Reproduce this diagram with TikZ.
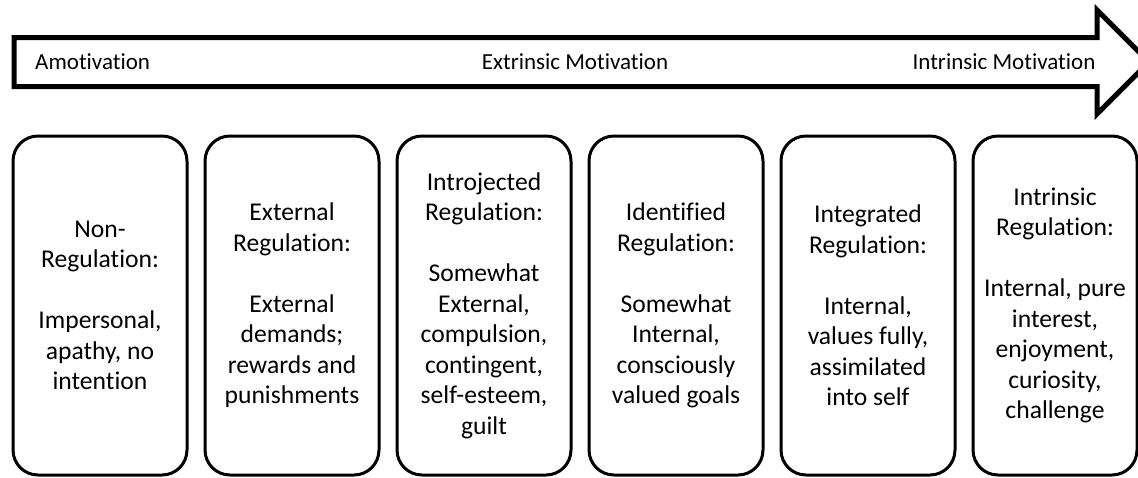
\documentclass[tikz,border=0pt]{standalone}
\usepackage{fontspec}
\setmainfont{Carlito}[Ligatures=NoCommon]
\usepackage{tikz}
\usetikzlibrary{positioning}

\begin{document}
\begin{tikzpicture}[x=1pt, y=-1pt, align=center, node distance=18pt,
  stage/.style={draw, line width=3pt, rounded corners=25pt, inner sep=0pt,
    outer sep=0pt, minimum width=174pt, minimum height=339pt,
    font=\fontsize{25.6}{30.5}\selectfont},
  motlabel/.style={inner sep=0pt, font=\fontsize{23}{27}\selectfont}]
  \useasboundingbox (0,0) rectangle (1138,477);
  \clip (0,0) rectangle (1138,477);
  % the continuum arrow
  \draw[line width=5pt, line join=miter]
    (14,37.5) -- (1097,37.5) -- (1097,10) -- (1149,62)
    -- (1097,114) -- (1097,86.5) -- (14,86.5) -- cycle;
  \node (amot) [motlabel, anchor=base west] at (35,69) {Amotivation};
  \node (extr) [motlabel, anchor=base] at (575,69) {Extrinsic Motivation};
  \node (intr) [motlabel, anchor=base] at (1004,69) {Intrinsic Motivation};
  % the six regulation styles
  \node (nonreg) [stage] at (100,305.5)
    {Non-\\Regulation:\\[30.5pt]Impersonal,\\apathy, no\\intention};
  \node (extreg) [stage, right=of nonreg]
    {External\\Regulation:\\[30.5pt]External\\demands;\\rewards and\\punishments};
  \node (introreg) [stage, right=of extreg]
    {Introjected\\Regulation:\\[30.5pt]Somewhat\\External,\\compulsion,\\contingent,\\self-esteem,\\guilt};
  \node (identreg) [stage, right=of introreg]
    {Identified\\Regulation:\\[30.5pt]Somewhat\\Internal,\\consciously\\valued goals};
  \node (integreg) [stage, right=of identreg]
    {Integrated\\Regulation:\\[30.5pt]Internal,\\values fully,\\assimilated\\into self};
  \node (intrreg) [stage, minimum width=164pt, right=of integreg]
    {Intrinsic\\Regulation:\\[30.5pt]Internal, pure\\interest,\\enjoyment,\\curiosity,\\challenge};
\end{tikzpicture}
\end{document}
